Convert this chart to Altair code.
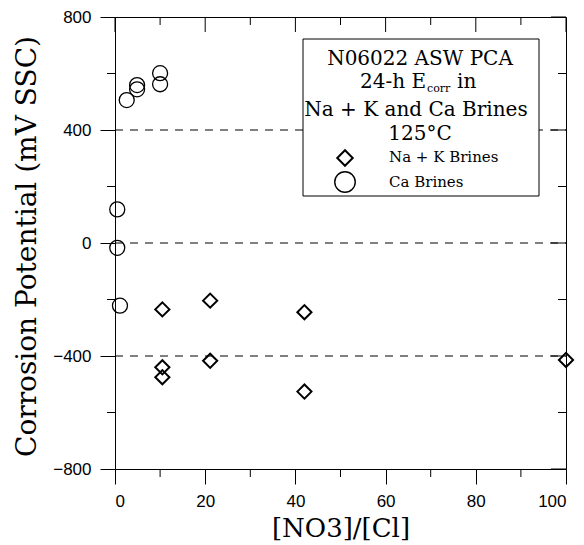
import altair as alt
import pandas as pd

# Ca brines (circles)
ca_ratio = [0.5, 0.5, 1.1, 2.6, 4.9, 4.9, 10, 10]
ca_ecorr = [119, -17, -222, 506, 559, 544, 601, 562]

# Na + K brines (diamonds)
nak_ratio = [10.5, 10.5, 10.5, 21.1, 21.1, 42, 42, 100]
nak_ecorr = [-235, -440, -475, -204, -417, -245, -526, -414]

x_major = [0, 20, 40, 60, 80, 100]
x_minor = [10, 30, 50, 70, 90]
y_major = [-800, -400, 0, 400, 800]
y_minor = [-600, -200, 200, 600]
grid_levels = [-400, 0, 400]

W, H = 451, 452
SERIF = "DejaVu Serif"
SANS = "Liberation Sans"

xs = alt.Scale(domain=[0, 100], nice=False, zero=False)
ys = alt.Scale(domain=[-800, 800], nice=False, zero=False)

ca = pd.DataFrame({"ratio": ca_ratio, "ecorr": ca_ecorr})
nak = pd.DataFrame({"ratio": nak_ratio, "ecorr": nak_ecorr})

x_axis = alt.Axis(values=x_major, tickSize=15, tickColor="black", domain=False,
                  grid=False, labelFont=SANS, labelFontSize=17, labelColor="black",
                  labelPadding=9, title="[NO3]/[Cl]", titleFont=SERIF,
                  titleFontSize=26, titleFontWeight="normal", titleColor="black",
                  titleBaseline="alphabetic", titleY=67)
y_axis = alt.Axis(values=y_major, tickSize=15, tickColor="black", domain=False,
                  grid=False, labelFont=SANS, labelFontSize=17, labelColor="black",
                  labelPadding=9, title="Corrosion Potential (mV SSC)",
                  titleFont=SERIF, titleFontSize=28, titleFontWeight="normal",
                  titleColor="black", titleBaseline="alphabetic",
                  titleX=-80, titleY=229, titleAngle=270)

# every layer shares the same axis definitions so Vega-Lite merges them
def X(field):
    return alt.X(field, scale=xs, axis=x_axis)

def Y(field):
    return alt.Y(field, scale=ys, axis=y_axis)

ca_pts = alt.Chart(ca).mark_point(
    shape="circle", size=225, strokeWidth=1.3, color="black", filled=False, opacity=1
).encode(x=X("ratio:Q"), y=Y("ecorr:Q"))

nak_pts = alt.Chart(nak).mark_point(
    shape="diamond", size=200, strokeWidth=2, color="black", filled=False, opacity=1
).encode(x=X("ratio:Q"), y=Y("ecorr:Q"))

# dashed reference lines
grid = alt.Chart(pd.DataFrame({"level": grid_levels})).mark_rule(
    color="black", strokeWidth=1, strokeDash=[8, 7]
).encode(y=Y("level:Q"), x=alt.value(0), x2=alt.value(W))

# frame ticks: top/right major ticks point inward, minor ticks on all four sides
xmaj = pd.DataFrame({"v": x_major})
xmin = pd.DataFrame({"v": x_minor})
ymaj = pd.DataFrame({"v": y_major})
ymin = pd.DataFrame({"v": y_minor})

def xticks(df, y0, y1):
    return alt.Chart(df).mark_rule(color="black", strokeWidth=1).encode(
        x=X("v:Q"), y=alt.value(y0), y2=alt.value(y1))

def yticks(df, x0, x1):
    return alt.Chart(df).mark_rule(color="black", strokeWidth=1).encode(
        y=Y("v:Q"), x=alt.value(x0), x2=alt.value(x1))

ticks = [
    xticks(xmaj, 0, 15), xticks(xmin, 0, 8),
    xticks(xmin, H, H + 8),
    yticks(ymaj, W - 15, W), yticks(ymin, W - 8, W),
    yticks(ymin, -8, 0),
]

one = pd.DataFrame({"k": [0]})

legend_box = alt.Chart(one).mark_rect(
    fill="white", stroke="black", strokeWidth=1
).encode(x=alt.value(188), x2=alt.value(424), y=alt.value(22), y2=alt.value(179))

def label(txt, x, y, size=20, align="center"):
    return alt.Chart(one).mark_text(
        text=txt, font=SERIF, fontSize=size, align=align, baseline="alphabetic",
        color="black"
    ).encode(x=alt.value(x), y=alt.value(y))

legend_text = [
    label("N06022 ASW PCA", 305, 48),
    label("24-h E", 311, 71, align="right"),
    label("corr", 312, 75, size=11, align="left"),
    label("in", 342, 71, align="left"),
    label("Na + K and Ca Brines", 301, 99),
    label("125°C", 305, 123),
    label("Na + K Brines", 274, 145, size=15, align="left"),
    label("Ca Brines", 274, 170, size=15, align="left"),
]

legend_marks = [
    alt.Chart(one).mark_point(shape="diamond", size=240, strokeWidth=2,
                              color="black", filled=False, opacity=1
    ).encode(x=alt.value(230), y=alt.value(141)),
    alt.Chart(one).mark_point(shape="circle", size=420, strokeWidth=1.4,
                              color="black", filled=False, opacity=1
    ).encode(x=alt.value(230), y=alt.value(165)),
]

chart = alt.layer(
    grid, *ticks, legend_box, *legend_text, *legend_marks, ca_pts, nak_pts
).properties(
    width=W, height=H, background="white",
    autosize=alt.AutoSizeParams(type="none"),
    padding={"left": 115, "top": 17, "right": 18, "bottom": 76},
).configure_view(stroke="black", strokeWidth=1)

chart.save("out.html", embed_options={"renderer": "svg", "actions": False})
